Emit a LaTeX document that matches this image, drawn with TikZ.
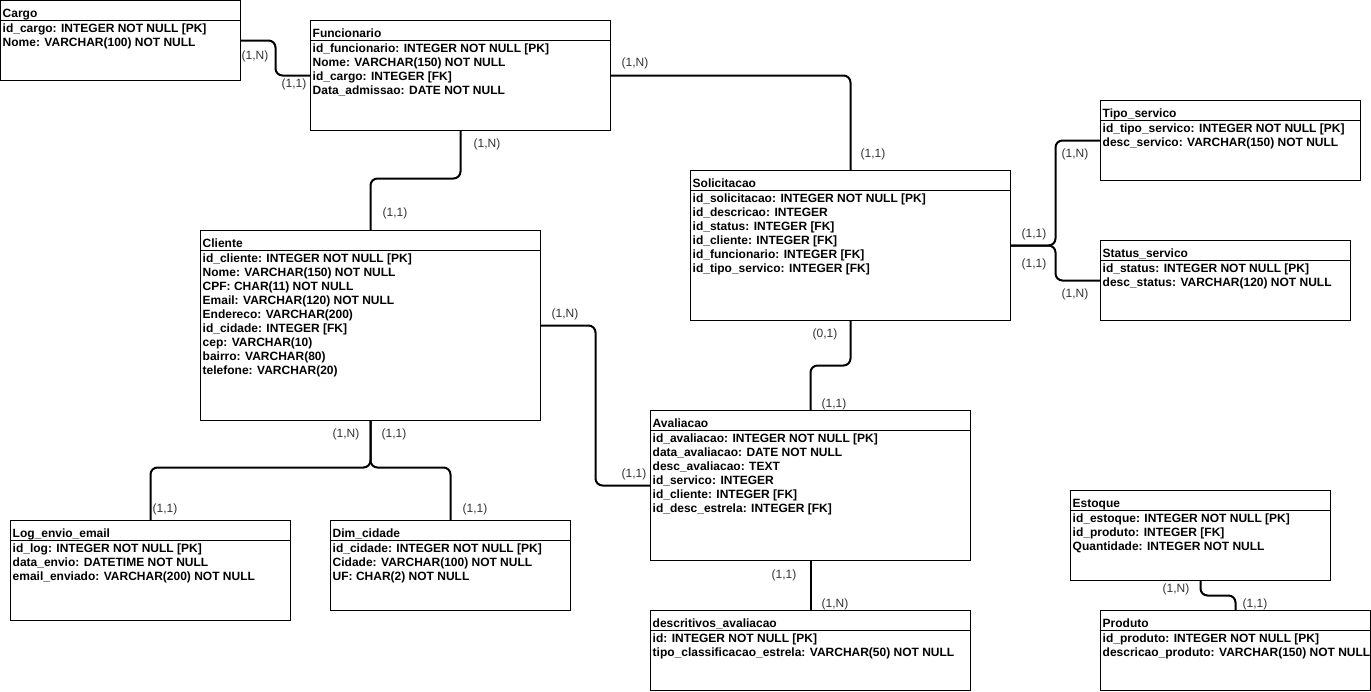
\documentclass[tikz,border=0pt]{standalone}
\usepackage{fontspec}
\setmainfont{Liberation Sans}
\usetikzlibrary{calc}
\definecolor{cardgray}{HTML}{333333}

% One entity table: name, x, y, width, height, title, list of fields
\newcommand\ertable[7]{%
  \node[tbl, minimum width=#4pt, minimum height=#5pt] (#1) at (#2,#3) {};
  \draw[hdrline] ([yshift=-20pt]#1.north west) -- ([yshift=-20pt]#1.north east);
  \node[ttl] (#1-t) at ([xshift=2pt,yshift=-17.3pt]#1.north west) {#6};
  \foreach [count=\i] \fieldtext in {#7} {%
    \node[fld] (#1-\i) at ([xshift=2pt,yshift={-32.3pt-14pt*(\i-1)}]#1.north west) {\fieldtext};
  }%
}

\begin{document}
\begin{tikzpicture}[x=1pt,y=-1pt,
  tbl/.style={draw=black, line width=1pt, fill=white, inner sep=0pt, outer sep=0pt, anchor=north west},
  hdrline/.style={draw=black, line width=1pt},
  ttl/.style={anchor=base west, inner sep=0pt, font=\fontsize{12}{14}\selectfont\bfseries},
  fld/.style={anchor=base west, inner sep=0pt, font=\fontsize{12}{14}\selectfont\bfseries},
  rel/.style={draw=black, line width=2pt, rounded corners=7pt},
  card/.style={inner sep=0pt, text=cardgray, font=\fontsize{12}{14}\selectfont}
]
\fill[white] (0,0) rectangle (1371,691);
\useasboundingbox (0,0) rectangle (1371,691);

% ---- entities ----
\ertable{cargo}{0.5}{0.5}{240}{80}{Cargo}{id\_cargo: INTEGER NOT NULL [PK],Nome: VARCHAR(100) NOT NULL}
\ertable{func}{310.5}{20.5}{300}{110}{Funcionario}{id\_funcionario: INTEGER NOT NULL [PK],Nome: VARCHAR(150) NOT NULL,id\_cargo: INTEGER [FK],Data\_admissao: DATE NOT NULL}
\ertable{cli}{200.5}{230.5}{340}{190}{Cliente}{id\_cliente: INTEGER NOT NULL [PK],Nome: VARCHAR(150) NOT NULL,CPF: CHAR(11) NOT NULL,Email: VARCHAR(120) NOT NULL,Endereco: VARCHAR(200),id\_cidade: INTEGER [FK],cep: VARCHAR(10),bairro: VARCHAR(80),telefone: VARCHAR(20)}
\ertable{sol}{690.5}{170.5}{320}{150}{Solicitacao}{id\_solicitacao: INTEGER NOT NULL [PK],id\_descricao: INTEGER,id\_status: INTEGER [FK],id\_cliente: INTEGER [FK],id\_funcionario: INTEGER [FK],id\_tipo\_servico: INTEGER [FK]}
\ertable{tipo}{1100.5}{100.5}{260}{80}{Tipo\_servico}{id\_tipo\_servico: INTEGER NOT NULL [PK],desc\_servico: VARCHAR(150) NOT NULL}
\ertable{stat}{1100.5}{240.5}{250}{80}{Status\_servico}{id\_status: INTEGER NOT NULL [PK],desc\_status: VARCHAR(120) NOT NULL}
\ertable{aval}{650.5}{410.5}{320}{150}{Avaliacao}{id\_avaliacao: INTEGER NOT NULL [PK],data\_avaliacao: DATE NOT NULL,desc\_avaliacao: TEXT,id\_servico: INTEGER,id\_cliente: INTEGER [FK],id\_desc\_estrela: INTEGER [FK]}
\ertable{log}{10.5}{520.5}{280}{100}{Log\_envio\_email}{id\_log: INTEGER NOT NULL [PK],data\_envio: DATETIME NOT NULL,email\_enviado: VARCHAR(200) NOT NULL}
\ertable{dim}{330.5}{520.5}{240}{90}{Dim\_cidade}{id\_cidade: INTEGER NOT NULL [PK],Cidade: VARCHAR(100) NOT NULL,UF: CHAR(2) NOT NULL}
\ertable{desc}{650.5}{610.5}{320}{80}{descritivos\_avaliacao}{id: INTEGER NOT NULL [PK],tipo\_classificacao\_estrela: VARCHAR(50) NOT NULL}
\ertable{est}{1070.5}{490.5}{260}{90}{Estoque}{id\_estoque: INTEGER NOT NULL [PK],id\_produto: INTEGER [FK],Quantidade: INTEGER NOT NULL}
\ertable{prod}{1100.5}{610.5}{270}{80}{Produto}{id\_produto: INTEGER NOT NULL [PK],descricao\_produto: VARCHAR(150) NOT NULL}

% ---- relationships ----
\draw[rel] (cargo.east) -- ++(35,0) |- (func.west);
\draw[rel] (func.east) -| (sol.north);
\draw[rel] (func.south) -- ++(0,48) -| (cli.north);
\draw[rel] (sol.east) -- ++(45,0) |- (tipo.west);
\draw[rel] (sol.east) -- ++(45,0) |- (stat.west);
\draw[rel] (sol.south) -- ++(0,45) -| (aval.north);
\draw[rel] (cli.east) -- ++(55,0) |- (aval.west);
\draw[rel] (cli.south) -- ++(0,47) -| (log.north);
\draw[rel] (cli.south) -- ++(0,47) -| (dim.north);
\draw[rel] (aval.south) -- (desc.north);
\draw[rel] (est.south) -- ++(0,15) -| (prod.north);

% ---- cardinalities ----
\node[card] (c1a) at (255,56) {(1,N)};
\node[card] (c1b) at (294,84) {(1,1)};
\node[card] (c2a) at (635,63) {(1,N)};
\node[card] (c2b) at (873,154) {(1,1)};
\node[card] (c3a) at (487,144) {(1,N)};
\node[card] (c3b) at (395,213) {(1,1)};
\node[card] (c4a) at (1034,234) {(1,1)};
\node[card] (c4b) at (1075,154) {(1,N)};
\node[card] (c5a) at (1034,264) {(1,1)};
\node[card] (c5b) at (1075,294) {(1,N)};
\node[card] (c6a) at (825,334) {(0,1)};
\node[card] (c6b) at (834,404) {(1,1)};
\node[card] (c7a) at (565,314) {(1,N)};
\node[card] (c7b) at (634,474) {(1,1)};
\node[card] (c8a) at (346,434) {(1,N)};
\node[card] (c8b) at (394,434) {(1,1)};
\node[card] (c9a) at (165,509) {(1,1)};
\node[card] (c9b) at (475,509) {(1,1)};
\node[card] (c10a) at (784,575) {(1,1)};
\node[card] (c10b) at (835,604) {(1,N)};
\node[card] (c11a) at (1176,589) {(1,N)};
\node[card] (c11b) at (1255,604) {(1,1)};
\end{tikzpicture}
\end{document}
